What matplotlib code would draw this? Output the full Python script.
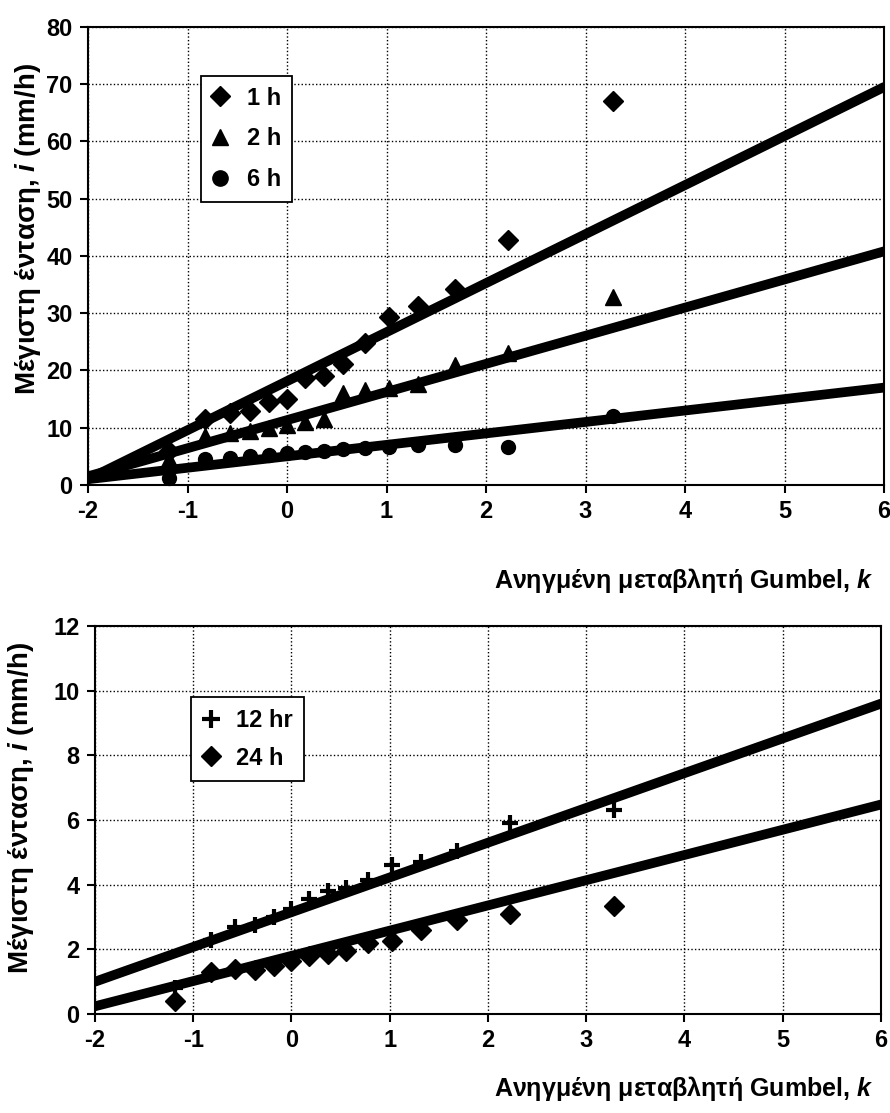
import matplotlib
matplotlib.use("Agg")
import matplotlib.pyplot as plt
from matplotlib.lines import Line2D

plt.rcParams["font.family"] = ["Liberation Sans", "DejaVu Sans"]
plt.rcParams["font.weight"] = "bold"
plt.rcParams["axes.unicode_minus"] = False
plt.rcParams["mathtext.fontset"] = "custom"
plt.rcParams["mathtext.bfit"] = "Liberation Sans:bold:italic"

# Gumbel reduced variate of each ranked sample (same for every duration)
k_vals = [-1.19, -0.82, -0.57, -0.37, -0.18, 0.00, 0.18, 0.37,
          0.56, 0.78, 1.02, 1.32, 1.69, 2.22, 3.28]

# observed maximum intensities, mm/h
i_1h = [6.0, 11.5, 12.5, 13.0, 14.5, 15.0, 18.6, 19.1,
        21.2, 24.8, 29.3, 31.3, 34.3, 42.7, 67.0]
i_2h = [4.5, 8.5, 9.0, 9.5, 10.0, 10.5, 11.0, 11.6,
        16.0, 16.5, 16.9, 17.6, 21.0, 23.0, 32.8]
i_6h = [1.2, 4.5, 4.7, 5.0, 5.3, 5.6, 5.8, 6.0,
        6.2, 6.4, 6.6, 6.9, 7.0, 6.6, 12.0]
i_12h = [0.8, 2.3, 2.7, 2.75, 3.0, 3.25, 3.55, 3.8,
         3.9, 4.15, 4.6, 4.7, 5.05, 5.9, 6.3]
i_24h = [0.4, 1.3, 1.4, 1.35, 1.5, 1.65, 1.8, 1.85,
         1.95, 2.2, 2.25, 2.6, 2.9, 3.1, 3.35]

# fitted Gumbel lines, values at k = -2 and k = 6
k_fit = [-2, 6]
fit_1h = [1.0, 69.5]
fit_2h = [1.5, 40.8]
fit_6h = [1.0, 17.0]
fit_12h = [1.0, 9.6]
fit_24h = [0.24, 6.48]

ylabel = "Μέγιστη ένταση, $\\boldsymbol{i}$ (mm/h)"
xlabel = "Ανηγμένη μεταβλητή Gumbel, $\\boldsymbol{k}$"

fig = plt.figure(figsize=(8.9, 11.13), dpi=100)
ax1 = fig.add_axes([0.0989, 0.5643, 0.8944, 0.4115])
ax2 = fig.add_axes([0.1067, 0.0889, 0.8831, 0.3486])


def style_axes(ax, yticks):
    ax.set_xlim(-2, 6)
    ax.set_xticks(range(-2, 7))
    ax.set_ylim(yticks[0], yticks[-1])
    ax.set_yticks(yticks)
    ax.grid(True, color="black", linestyle=(0, (1, 1.6)), linewidth=1.0)
    ax.set_axisbelow(True)
    for sp in ax.spines.values():
        sp.set_linewidth(1.5)
    ax.tick_params(direction="out", length=6, width=1.5, labelsize=17,
                   pad=5)
    for lab in ax.get_xticklabels() + ax.get_yticklabels():
        lab.set_fontweight("bold")


LW = 7
MS = 10
LEG_FONT = {"size": 17, "weight": "bold"}

# upper panel: 1, 2 and 6 hour durations
style_axes(ax1, list(range(0, 81, 10)))
ax1.plot(k_fit, fit_1h, color="black", lw=LW, solid_capstyle="round")
ax1.plot(k_fit, fit_2h, color="black", lw=LW, solid_capstyle="round")
ax1.plot(k_fit, fit_6h, color="black", lw=LW, solid_capstyle="round")
ax1.plot(k_vals, i_1h, "D", color="black", ms=MS, clip_on=False)
ax1.plot(k_vals, i_2h, "^", color="black", ms=MS + 1, clip_on=False)
ax1.plot(k_vals, i_6h, "o", color="black", ms=MS, clip_on=False)

h1 = [Line2D([], [], ls="", marker="D", color="black", ms=10),
      Line2D([], [], ls="", marker="^", color="black", ms=12),
      Line2D([], [], ls="", marker="o", color="black", ms=11)]
leg1 = ax1.legend(h1, ["1 h", "2 h", "6 h"], loc="upper left",
                  bbox_to_anchor=(0.142, 0.893), fancybox=False,
                  edgecolor="black", framealpha=1, handlelength=0.7,
                  handletextpad=0.8, labelspacing=0.75, borderpad=0.45,
                  borderaxespad=0, prop=LEG_FONT)
leg1.get_frame().set_linewidth(1.3)

ax1.set_ylabel(ylabel, fontsize=20, fontweight="bold")
ax1.yaxis.set_label_coords(-0.057, 0.56)
ax1.set_xlabel(xlabel, fontsize=18, fontweight="bold", ha="right")
ax1.xaxis.set_label_coords(0.987, -0.178)

# lower panel: 12 and 24 hour durations
style_axes(ax2, list(range(0, 13, 2)))
ax2.plot(k_fit, fit_12h, color="black", lw=LW, solid_capstyle="round")
ax2.plot(k_fit, fit_24h, color="black", lw=LW, solid_capstyle="round")
ax2.plot(k_vals, i_12h, "+", color="black", ms=MS + 2, mew=3, clip_on=False)
ax2.plot(k_vals, i_24h, "D", color="black", ms=MS, clip_on=False)

h2 = [Line2D([], [], ls="", marker="+", color="black", ms=13, mew=3),
      Line2D([], [], ls="", marker="D", color="black", ms=10)]
leg2 = ax2.legend(h2, ["12 hr", "24 h"], loc="upper left",
                  bbox_to_anchor=(0.122, 0.817), fancybox=False,
                  edgecolor="black", framealpha=1, handlelength=0.7,
                  handletextpad=0.7, labelspacing=0.62, borderpad=0.5,
                  borderaxespad=0, prop=LEG_FONT)
leg2.get_frame().set_linewidth(1.3)

ax2.set_ylabel(ylabel, fontsize=20, fontweight="bold")
ax2.yaxis.set_label_coords(-0.075, 0.53)
ax2.set_xlabel(xlabel, fontsize=18, fontweight="bold", ha="right")
ax2.xaxis.set_label_coords(0.99, -0.155)

fig.savefig("out.png", dpi=100)
